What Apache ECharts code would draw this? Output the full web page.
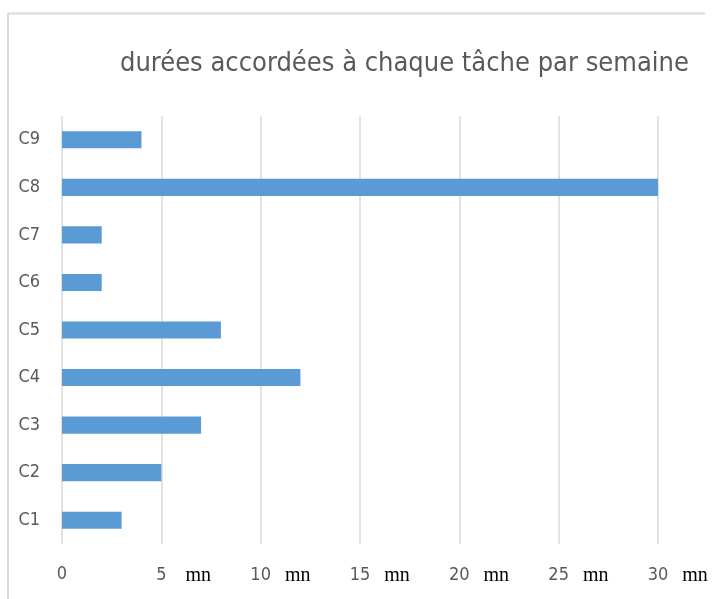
<!DOCTYPE html>
<html><head><meta charset="utf-8">
<script src="https://cdn.jsdelivr.net/npm/echarts@6/dist/echarts.min.js"></script>
<style>html,body{margin:0;padding:0;background:#fff}#c{width:717px;height:599px}</style>
</head><body><div id="c"></div>
<script>
const categories = ['C1','C2','C3','C4','C5','C6','C7','C8','C9'];
const values = [3, 5, 7, 12, 8, 2, 2, 30, 4];
const tickValues = [0, 5, 10, 15, 20, 25, 30];
const unitLabel = 'mn';
const titleText = 'durées accordées à chaque tâche par semaine';

const chart = echarts.init(document.getElementById('c'), null, {renderer:'canvas'});
const narrow = '"DejaVu Sans Condensed","Roboto","Open Sans",sans-serif';
chart.setOption({
  animation:false,
  backgroundColor:'#ffffff',
  title:{text:titleText,left:115,top:45,textStyle:{fontFamily:narrow,fontWeight:'normal',fontSize:27,color:'#595959'}},
  graphic:[
    {type:'line',shape:{x1:8,y1:13.5,x2:705,y2:13.5},style:{stroke:'#d9d9d9',lineWidth:2}},
    {type:'line',shape:{x1:8,y1:13,x2:8,y2:599},style:{stroke:'#d9d9d9',lineWidth:2}}
  ],
  grid:{left:62,right:59,top:116,bottom:55,containLabel:false},
  xAxis:{type:'value',min:0,max:30,interval:5,
    axisLine:{show:false},axisTick:{show:false},
    splitLine:{lineStyle:{color:'#d9d9d9',width:1.5}},
    axisLabel:{margin:21,
      formatter:function(v){ return v===0 ? '{n|0}' : '{s|}{n|'+v+'}{m|'+unitLabel+'}'; },
      rich:{
        s:{width:38},
        n:{width:26,align:'center',fontFamily:narrow,fontSize:18,color:'#595959'},
        m:{width:28,align:'left',padding:[1,0,0,10],fontFamily:'"Liberation Serif","DejaVu Serif",serif',fontSize:20,color:'#000'}
      }
    }
  },
  yAxis:{type:'category',data:categories,
    axisLine:{show:false},axisTick:{show:false},
    axisLabel:{margin:22,fontFamily:narrow,fontSize:18,color:'#595959'}
  },
  series:[{type:'bar',data:values,barCategoryGap:'64%',
    itemStyle:{color:'#5b9bd5'}}]
});
</script></body></html>
